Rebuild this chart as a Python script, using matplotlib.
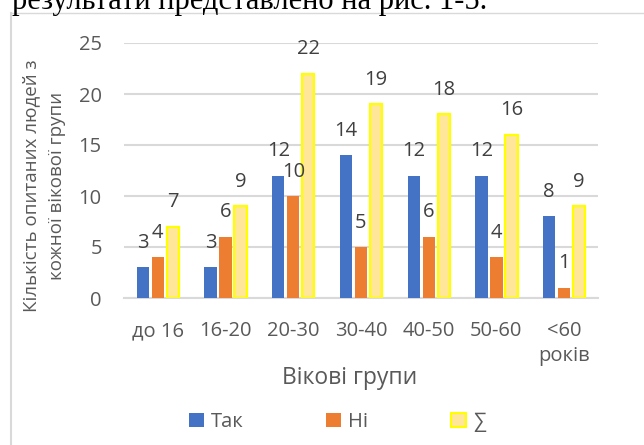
import matplotlib
matplotlib.use("Agg")
import matplotlib.pyplot as plt
from matplotlib.patches import Rectangle
from matplotlib.lines import Line2D
import numpy as np

categories = ["до 16", "16-20", "20-30", "30-40", "40-50", "50-60", "<60\nроків"]
tak = [3, 3, 12, 14, 12, 12, 8]
ni = [4, 6, 10, 5, 6, 4, 1]
suma = [7, 9, 22, 19, 18, 16, 9]
series_names = ["Так", "Ні", "∑"]
y_ticks = [0, 5, 10, 15, 20, 25]

plt.rcParams['font.family'] = ['Open Sans', 'DejaVu Sans']

W, H = 644, 445
fig = plt.figure(figsize=(W / 100, H / 100), dpi=100)

# document text above the chart (cut off)
fig.text(12 / W, 1 - 9 / H, "результати представлено на рис. 1-5.",
         family=['Liberation Serif'], fontsize=22, color='black',
         ha='left', va='baseline')

# chart frame
fig.add_artist(Line2D([10.5 / W, 10.5 / W], [0, 1 - 12.5 / H], transform=fig.transFigure,
                      color='#d9d9d9', lw=1.5))
fig.add_artist(Line2D([10.5 / W, 1], [1 - 12.5 / H, 1 - 12.5 / H], transform=fig.transFigure,
                      color='#d9d9d9', lw=1.0))

ax = fig.add_axes([124 / W, 147 / H, 474 / W, 255 / H])
x = np.arange(len(categories))
pitch = 0.2216
bw = 0.182
b1 = ax.bar(x - pitch, tak, bw, color='#4472C4', zorder=3)
b2 = ax.bar(x, ni, bw, color='#ED7D31', zorder=3)
b3 = ax.bar(x + pitch, suma, bw, color='#FFE699', edgecolor='#FFFF00', linewidth=1.6, zorder=3)

for bars, vals in ((b1, tak), (b2, ni), (b3, suma)):
    for r, v in zip(bars, vals):
        ax.annotate(str(v), (r.get_x() + r.get_width() / 2, v), xytext=(0, 17.5),
                    textcoords='offset points', ha='center', va='center',
                    fontsize=14.5, color='#404040', zorder=4)

ax.set_xlim(-0.5, len(categories) - 0.5)
ax.set_ylim(0, 25)
ax.set_yticks(y_ticks)
ax.set_xticks(x)
ax.set_xticklabels(categories, linespacing=1.35)
ax.tick_params(axis='both', length=0, labelsize=14.5, colors='#595959')
ax.tick_params(axis='y', pad=16)
ax.tick_params(axis='x', pad=16.5)
ax.grid(axis='y', color='#d9d9d9', lw=1.5, zorder=0)
for s in ['top', 'right', 'left']:
    ax.spines[s].set_visible(False)
ax.spines['bottom'].set_color('#d9d9d9')
ax.spines['bottom'].set_linewidth(1.5)

fig.text(350 / W, 1 - 378 / H, "Вікові групи", fontsize=16.5, color='#595959',
         ha='center', va='center')
fig.text(44 / W, 1 - 186 / H, "Кількість опитаних людей з\nкожної вікової групи",
         fontsize=13.5, color='#595959', rotation=90, ha='center', va='center',
         multialignment='center', linespacing=1.5)

handles = [Rectangle((0, 0), 1, 1, facecolor='#4472C4'),
           Rectangle((0, 0), 1, 1, facecolor='#ED7D31'),
           Rectangle((0, 0), 1, 1, facecolor='#FFE699', edgecolor='#FFFF00', linewidth=1.5)]
leg = fig.legend(handles, series_names, loc='center', bbox_to_anchor=(337 / W, 1 - 422 / H),
                 ncol=3, frameon=False, fontsize=14.5, handlelength=0.75, handleheight=0.75,
                 handletextpad=0.35, columnspacing=4.1, labelcolor='#595959')

fig.savefig("out.png", dpi=100)
